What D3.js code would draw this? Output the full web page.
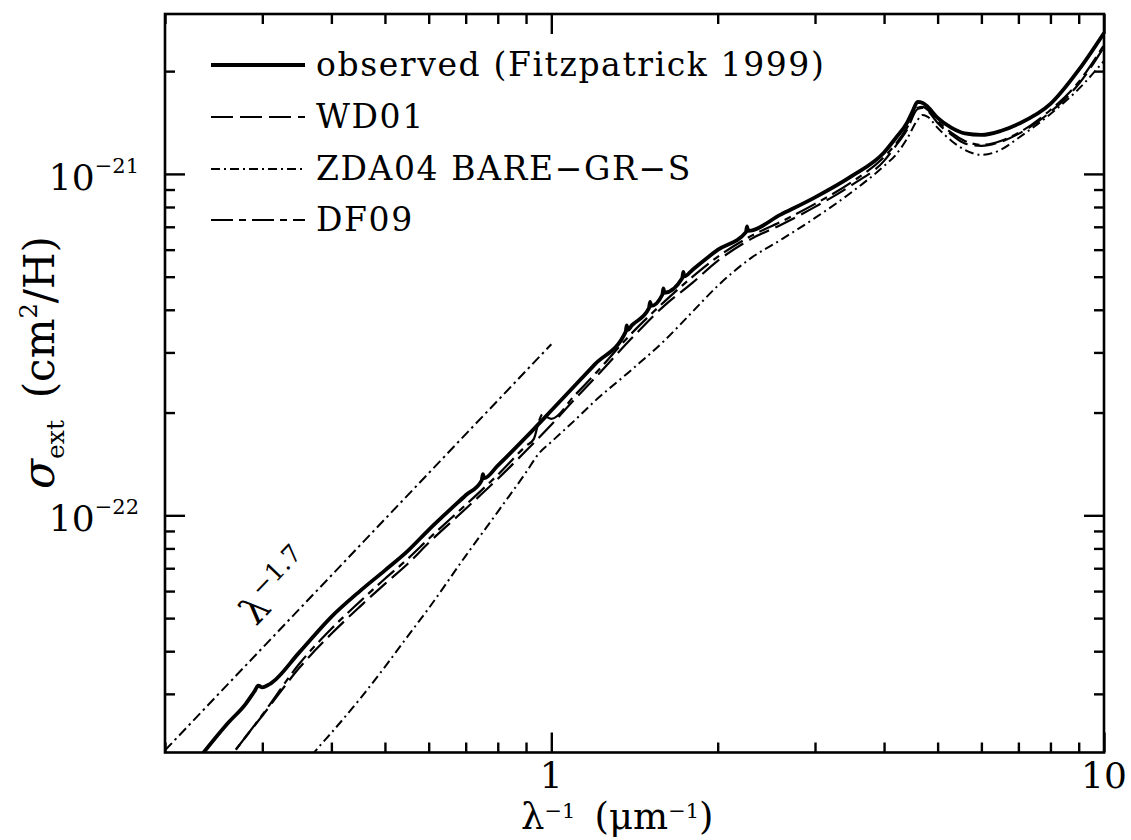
<!DOCTYPE html>
<html>
<head>
<meta charset="utf-8">
<script src="https://cdn.jsdelivr.net/npm/d3@7"></script>
<style>
  html, body { margin: 0; padding: 0; background: #fff; }
  svg { display: block; }
  text { font-family: "DejaVu Serif", serif; fill: #000; }
</style>
</head>
<body>
<svg id="chart" width="1131" height="840"></svg>
<script>
// ---------------- data ----------------
// x: inverse wavelength (1/micron), y: extinction cross section per H (cm^2/H)
const obsX = [0.23, 0.26, 0.28, 0.29, 0.295, 0.30, 0.31, 0.35, 0.40, 0.45,
  0.50, 0.55, 0.60, 0.70, 0.748, 0.752, 0.756, 0.80, 0.90, 1.0,
  1.1, 1.2, 1.363, 1.369, 1.375, 1.4, 1.502, 1.509, 1.516, 1.588,
  1.595, 1.602, 1.725, 1.733, 1.741, 1.8, 2.0, 2.25, 2.26, 2.27,
  2.6, 3.0, 3.5, 4.0, 4.2, 4.4, 4.5, 4.6, 4.7, 4.8,
  5.0, 5.3, 5.6, 6.0, 6.5, 7.0, 8.0, 9.0, 10];
const obsY = [1.936e-23, 2.464e-23, 2.805e-23, 3.042e-23, 3.168e-23, 3.136e-23, 3.211e-23, 3.969e-23, 5.044e-23, 5.99e-23,
  6.90e-23, 7.87e-23, 9.07e-23, 1.145e-22, 1.264e-22, 1.32e-22, 1.285e-22, 1.399e-22, 1.694e-22, 2.027e-22,
  2.388e-22, 2.772e-22, 3.445e-22, 3.60e-22, 3.496e-22, 3.606e-22, 4.044e-22, 4.22e-22, 4.105e-22, 4.427e-22,
  4.62e-22, 4.487e-22, 4.948e-22, 5.16e-22, 5.008e-22, 5.234e-22, 5.99e-22, 6.75e-22, 7.02e-22, 6.81e-22,
  7.60e-22, 8.54e-22, 9.87e-22, 1.156e-21, 1.274e-21, 1.410e-21, 1.519e-21, 1.625e-21, 1.614e-21, 1.571e-21,
  1.459e-21, 1.364e-21, 1.314e-21, 1.301e-21, 1.336e-21, 1.401e-21, 1.603e-21, 2.016e-21, 2.587e-21];

const wd01X = [0.25, 0.26, 0.28, 0.30, 0.35, 0.40, 0.45, 0.50, 0.55, 0.60,
  0.70, 0.80, 0.90, 1.0, 1.1, 1.2, 1.4, 1.6, 1.8, 2.0,
  2.3, 2.6, 3.0, 3.5, 4.0, 4.2, 4.4, 4.6, 4.7, 4.8,
  5.0, 5.3, 5.6, 6.0, 6.5, 7.0, 8.0, 9.0, 10];
const wd01Y = [1.769e-23, 1.923e-23, 2.246e-23, 2.588e-23, 3.576e-23, 4.498e-23, 5.395e-23, 6.301e-23, 7.211e-23, 8.308e-23,
  1.045e-22, 1.279e-22, 1.545e-22, 1.841e-22, 2.179e-22, 2.527e-22, 3.310e-22, 4.107e-22, 4.796e-22, 5.561e-22,
  6.452e-22, 7.09e-22, 8.006e-22, 9.286e-22, 1.092e-21, 1.208e-21, 1.345e-21, 1.550e-21, 1.561e-21, 1.529e-21,
  1.410e-21, 1.301e-21, 1.228e-21, 1.208e-21, 1.241e-21, 1.310e-21, 1.519e-21, 1.834e-21, 2.354e-21];

const zdaX = [0.35, 0.38, 0.40, 0.45, 0.50, 0.55, 0.60, 0.70, 0.80, 0.90,
  0.95, 1.0, 1.1, 1.2, 1.4, 1.6, 1.8, 2.0, 2.3, 2.6,
  3.0, 3.5, 4.0, 4.2, 4.4, 4.6, 4.7, 4.8, 5.0, 5.3,
  5.6, 6.0, 6.5, 7.0, 8.0, 9.0, 10];
const zdaY = [1.788e-23, 2.100e-23, 2.307e-23, 2.893e-23, 3.600e-23, 4.428e-23, 5.342e-23, 7.610e-23, 1.024e-22, 1.336e-22,
  1.519e-22, 1.641e-22, 1.891e-22, 2.164e-22, 2.676e-22, 3.243e-22, 3.944e-22, 4.699e-22, 5.675e-22, 6.408e-22,
  7.43e-22, 8.857e-22, 1.055e-21, 1.137e-21, 1.266e-21, 1.439e-21, 1.489e-21, 1.469e-21, 1.364e-21, 1.249e-21,
  1.176e-21, 1.137e-21, 1.176e-21, 1.274e-21, 1.498e-21, 1.774e-21, 2.143e-21];

const df09X = [0.25, 0.28, 0.30, 0.35, 0.40, 0.45, 0.50, 0.55, 0.60, 0.70,
  0.80, 0.90, 0.93, 0.95, 0.965, 0.98, 1.0, 1.1, 1.2, 1.4,
  1.6, 1.8, 2.0, 2.3, 2.6, 3.0, 3.5, 4.0, 4.2, 4.4,
  4.6, 4.7, 4.8, 5.0, 5.3, 5.6, 6.0, 6.5, 7.0, 8.0,
  9.0, 10];
const df09Y = [1.774e-23, 2.246e-23, 2.604e-23, 3.675e-23, 4.652e-23, 5.580e-23, 6.518e-23, 7.459e-23, 8.535e-23, 1.073e-22,
  1.314e-22, 1.597e-22, 1.675e-22, 1.891e-22, 1.983e-22, 1.943e-22, 1.917e-22, 2.238e-22, 2.596e-22, 3.423e-22,
  4.219e-22, 4.994e-22, 5.715e-22, 6.583e-22, 7.236e-22, 8.169e-22, 9.475e-22, 1.121e-21, 1.224e-21, 1.364e-21,
  1.561e-21, 1.571e-21, 1.539e-21, 1.430e-21, 1.318e-21, 1.249e-21, 1.216e-21, 1.249e-21, 1.318e-21, 1.539e-21,
  1.859e-21, 2.386e-21];

// reference power law lambda^-1.7 (two end points)
const refX = [0.2, 1.0];
const refY = [2.05e-23, 3.17e-22];

const seriesNames = ["observed (Fitzpatrick 1999)", "WD01", "ZDA04 BARE\u2212GR\u2212S", "DF09"];

const xMajorTicks = [1, 10];
const xTickLabels = ["1", "10"];
const xMinorTicks = [0.2, 0.3, 0.4, 0.5, 0.6, 0.7, 0.8, 0.9, 2, 3, 4, 5, 6, 7, 8, 9];
const yMajorTicks = [1e-22, 1e-21];
const yTickExponents = ["\u221222", "\u221221"];
const yMinorTicks = [3e-23, 4e-23, 5e-23, 6e-23, 7e-23, 8e-23, 9e-23,
  2e-22, 3e-22, 4e-22, 5e-22, 6e-22, 7e-22, 8e-22, 9e-22, 2e-21];

// ---------------- layout ----------------
const L = 165, R = 1104, T = 14, B = 752.5;
const svg = d3.select("#chart");
svg.append("rect").attr("width", 1131).attr("height", 840).attr("fill", "#fff");

const x = d3.scaleLog().domain([0.2, 10]).range([L, R]);
const y = d3.scaleLog().domain([2.02e-23, 2.94e-21]).range([B, T]);

svg.append("defs").append("clipPath").attr("id", "plotclip")
  .append("rect").attr("x", L).attr("y", T).attr("width", R - L).attr("height", B - T);

const zip = (xs, ys) => xs.map((v, i) => [v, ys[i]]);
const line = d3.line().x(d => x(d[0])).y(d => y(d[1])).curve(d3.curveMonotoneX);

const styles = [
  { data: zip(obsX, obsY), width: 3.8, dash: null },
  { data: zip(wd01X, wd01Y), width: 2.2, dash: "22,7" },
  { data: zip(zdaX, zdaY), width: 2.0, dash: "9,4,2,4" },
  { data: zip(df09X, df09Y), width: 2.2, dash: "22,6,7,6" }
];

const plot = svg.append("g").attr("clip-path", "url(#plotclip)");

plot.append("path")
  .attr("d", d3.line().x(d => x(d[0])).y(d => y(d[1]))(zip(refX, refY)))
  .attr("fill", "none").attr("stroke", "#000").attr("stroke-width", 2)
  .attr("stroke-dasharray", "10,4,2.5,4");

[1, 3, 2, 0].forEach(i => {
  const s = styles[i];
  plot.append("path")
    .attr("d", line(s.data))
    .attr("fill", "none")
    .attr("stroke", "#000")
    .attr("stroke-width", s.width)
    .attr("stroke-linejoin", "round")
    .attr("stroke-dasharray", s.dash);
});

// ---------------- axes (inward ticks on all sides) ----------------
function tickAxis(axisFn, scale, values, size, transform) {
  const g = svg.append("g").attr("transform", transform)
    .call(axisFn(scale).tickValues(values).tickSize(-size).tickFormat(""));
  g.select(".domain").remove();
  g.selectAll("line").attr("stroke", "#000").attr("stroke-width", 2.4);
}
tickAxis(d3.axisBottom, x, xMajorTicks, 20, `translate(0,${B})`);
tickAxis(d3.axisBottom, x, xMinorTicks, 10, `translate(0,${B})`);
tickAxis(d3.axisTop, x, xMajorTicks, 20, `translate(0,${T})`);
tickAxis(d3.axisTop, x, xMinorTicks, 10, `translate(0,${T})`);
tickAxis(d3.axisLeft, y, yMajorTicks, 20, `translate(${L},0)`);
tickAxis(d3.axisLeft, y, yMinorTicks, 10, `translate(${L},0)`);
tickAxis(d3.axisRight, y, yMajorTicks, 20, `translate(${R},0)`);
tickAxis(d3.axisRight, y, yMinorTicks, 10, `translate(${R},0)`);

svg.append("rect").attr("x", L).attr("y", T).attr("width", R - L).attr("height", B - T)
  .attr("fill", "none").attr("stroke", "#000").attr("stroke-width", 2.6);

// tick labels
xMajorTicks.forEach((v, i) => {
  svg.append("text").attr("x", x(v)).attr("y", 788)
    .attr("text-anchor", "middle").attr("font-size", 36).text(xTickLabels[i]);
});
yMajorTicks.forEach((v, i) => {
  const t = svg.append("text").attr("x", 139).attr("y", y(v) + 16)
    .attr("text-anchor", "end");
  t.append("tspan").attr("font-size", 36).text("10");
  t.append("tspan").attr("font-size", 21).attr("dy", -17).text(yTickExponents[i]);
});

// axis titles
const xt = svg.append("text").attr("x", 521).attr("y", 829).attr("font-size", 37);
xt.append("tspan").text("\u03bb");
xt.append("tspan").attr("font-size", 21).attr("dy", -11).text("\u22121");
xt.append("tspan").attr("dy", 11).text("\u2009 (\u03bcm");
xt.append("tspan").attr("font-size", 21).attr("dy", -11).text("\u22121");
xt.append("tspan").attr("dy", 11).text(")");

const yt = svg.append("text").attr("transform", "translate(54,489) rotate(-90)").attr("font-size", 42);
yt.append("tspan").attr("font-size", 44).attr("font-style", "italic").text("\u03c3");
yt.append("tspan").attr("font-size", 25).attr("dy", 10).text("ext");
yt.append("tspan").attr("dy", -10).text("\u2009 (cm");
yt.append("tspan").attr("font-size", 24).attr("dy", -17).text("2");
yt.append("tspan").attr("dy", 17).text("/H)");

// lambda^-1.7 label along the reference line
const ang = Math.atan2(y(refY[1]) - y(refY[0]), x(refX[1]) - x(refX[0])) * 180 / Math.PI;
const lt = svg.append("text").attr("transform", `translate(256,627) rotate(${ang})`).attr("font-size", 38);
lt.append("tspan").text("\u03bb");
lt.append("tspan").attr("font-size", 25).attr("dy", -16).text("\u22121.7");

// ---------------- legend ----------------
const legRows = [65, 117, 169, 220];
seriesNames.forEach((name, i) => {
  const s = styles[i];
  svg.append("line").attr("x1", 211).attr("x2", 305).attr("y1", legRows[i]).attr("y2", legRows[i])
    .attr("stroke", "#000").attr("stroke-width", s.width).attr("stroke-dasharray", s.dash);
  svg.append("text").attr("x", 316).attr("y", legRows[i] + 11)
    .attr("font-size", 33).attr("letter-spacing", 1.6).text(name);
});
</script>
</body>
</html>
